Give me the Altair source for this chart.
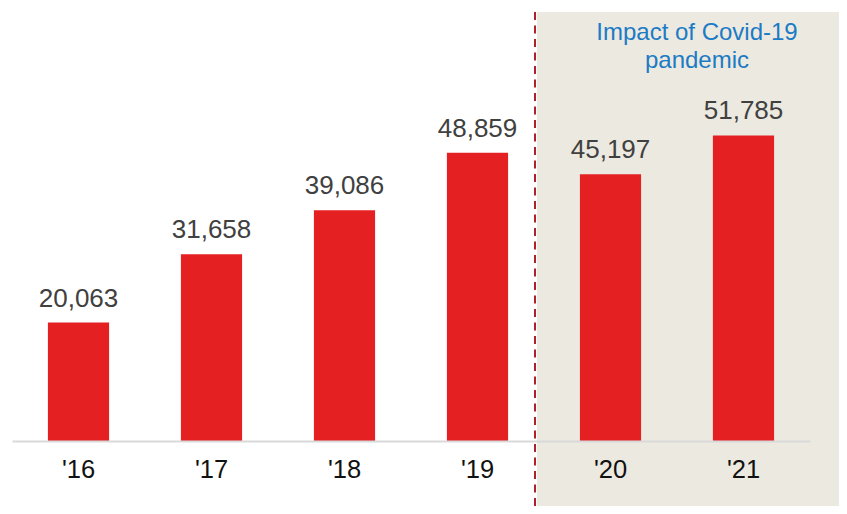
import altair as alt
import pandas as pd

years = ["'16", "'17", "'18", "'19", "'20", "'21"]
values = [20063, 31658, 39086, 48859, 45197, 51785]
labels = ["20,063", "31,658", "39,086", "48,859", "45,197", "51,785"]
note_lines = ["Impact of Covid-19", "pandemic"]

df = pd.DataFrame({"year": years, "value": values, "label": labels})
one = pd.DataFrame({"note": [note_lines]})

FONT = "Liberation Sans"

x = alt.X(
    "year:N", sort=years,
    scale=alt.Scale(paddingInner=0.54, paddingOuter=0.27),
    axis=alt.Axis(title=None, labelAngle=0, ticks=False, grid=False,
                  domainColor="#D9D9D9", domainWidth=2, labelFontSize=25.5,
                  labelColor="#111111", labelPadding=16, labelFont=FONT, zindex=1),
)
y = alt.Y("value:Q", scale=alt.Scale(domain=[0, 72700], nice=False), axis=None)

shade = alt.Chart(one).mark_rect(color="#ECE9E0").encode(
    x=alt.value(525), x2=alt.value(830), y=alt.value(0), y2=alt.value(494)
)
divider = alt.Chart(one).mark_rule(color="#B0202A", strokeDash=[8, 5.5], strokeWidth=2).encode(
    x=alt.value(523), y=alt.value(0), y2=alt.value(494)
)
bars = alt.Chart(df).mark_bar(color="#E42023").encode(x=x, y=y)
vals = alt.Chart(df).mark_text(
    font=FONT, fontSize=26, color="#404040", baseline="alphabetic", dy=-16
).encode(x=x, y=y, text="label:N")
note = alt.Chart(one).mark_text(
    font=FONT, fontSize=24, color="#1C7BC5", baseline="alphabetic", align="center", lineHeight=28
).encode(x=alt.value(685), y=alt.value(28), text="note")

chart = alt.layer(shade, divider, bars, vals, note).properties(
    width=798, height=429,
    padding={"left": 4, "top": 4, "right": 29, "bottom": 65},
    autosize="none",
).configure_view(stroke=None)

chart.save("out.html", embed_options={"renderer": "svg", "actions": False})
